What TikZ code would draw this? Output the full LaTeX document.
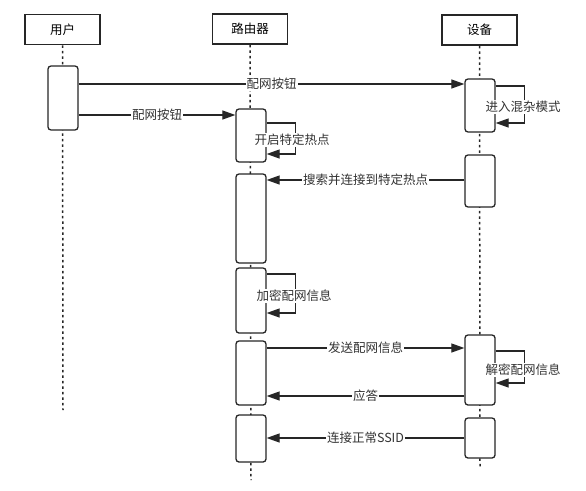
\documentclass[tikz,border=0pt]{standalone}
\usepackage{fontspec}
\setmainfont{Noto Sans CJK SC}
\usetikzlibrary{arrows.meta}

\begin{document}
\begin{tikzpicture}[x=1pt,y=-1pt,
  head/.style={draw=black!85,line width=1.6pt,fill=white,minimum width=75pt,minimum height=30pt,inner sep=0pt,font=\fontsize{12.5}{14}\selectfont},
  act/.style={draw=black!85,line width=1.3pt,fill=white,rounded corners=3pt,minimum width=30pt,inner sep=0pt},
  life/.style={draw=black!85,line width=1.5pt,dash pattern=on 2.5pt off 3pt},
  msg/.style={draw=black!85,line width=1.2pt,-{Triangle[length=13pt,width=9pt]}},
  lbl/.style={fill=white,inner sep=1pt,font=\fontsize{12.5}{14}\selectfont,text=black!80}]
  \useasboundingbox (0,0) rectangle (586,490);
  \node[head] (hu) at (62.5,29.5) {用户};
  \node[head] (hr) at (250,29) {路由器};
  \node[head] (hd) at (479.5,30) {设备};
  \coordinate (eu) at (63,410);
  \coordinate (er) at (251,480);
  \coordinate (ed) at (480,467);
  \draw[life] (hu) -- (eu);
  \draw[life] (hr) -- (er);
  \draw[life] (hd) -- (ed);
  \node[act,minimum height=64pt] (u1) at (63,98) {};
  \node[act,minimum height=53pt] (d1) at (480,105.5) {};
  \node[act,minimum height=53pt] (r1) at (251,135.5) {};
  \node[act,minimum height=52pt] (d2) at (480,181) {};
  \node[act,minimum height=89pt] (r2) at (251,218.5) {};
  \node[act,minimum height=65pt] (r3) at (251,300.5) {};
  \node[act,minimum height=64pt] (r4) at (251,373) {};
  \node[act,minimum height=70pt] (d3) at (480,370) {};
  \node[act,minimum height=47pt] (r5) at (251,438.5) {};
  \node[act,minimum height=40pt] (d4) at (480,438) {};
  \coordinate (m1) at (0,84);
  \coordinate (m2) at (0,115);
  \coordinate (m3) at (0,180);
  \coordinate (m4) at (0,348);
  \coordinate (m5) at (0,396);
  \coordinate (m6) at (0,438);
  \coordinate (s1a) at (0,86);
  \coordinate (s1b) at (0,123);
  \coordinate (s2a) at (0,123);
  \coordinate (s2b) at (0,154);
  \coordinate (s3a) at (0,274);
  \coordinate (s3b) at (0,313);
  \coordinate (s4a) at (0,351);
  \coordinate (s4b) at (0,383);
  \draw[msg] (u1.east |- m1) -- node[lbl] {配网按钮} (d1.west |- m1);
  \draw[msg] (u1.east |- m2) -- node[lbl] {配网按钮} (r1.west |- m2);
  \draw[msg] (d1.east |- s1a) -- ++(29,0) |- (d1.east |- s1b);
  \node[lbl] (t1) at (523,107) {进入混杂模式};
  \draw[msg] (r1.east |- s2a) -- ++(29,0) |- (r1.east |- s2b);
  \node[lbl] (t2) at (292,140) {开启特定热点};
  \draw[msg] (d2.west |- m3) -- node[lbl] {搜索并连接到特定热点} (r2.east |- m3);
  \draw[msg] (r3.east |- s3a) -- ++(29,0) |- (r3.east |- s3b);
  \node[lbl] (t3) at (294,296) {加密配网信息};
  \draw[msg] (r4.east |- m4) -- node[lbl] {发送配网信息} (d3.west |- m4);
  \draw[msg] (d3.east |- s4a) -- ++(29,0) |- (d3.east |- s4b);
  \node[lbl] (t4) at (523,370) {解密配网信息};
  \draw[msg] (d3.west |- m5) -- node[lbl] {应答} (r4.east |- m5);
  \draw[msg] (d4.west |- m6) -- node[lbl] {连接正常SSID} (r5.east |- m6);
\end{tikzpicture}
\end{document}
